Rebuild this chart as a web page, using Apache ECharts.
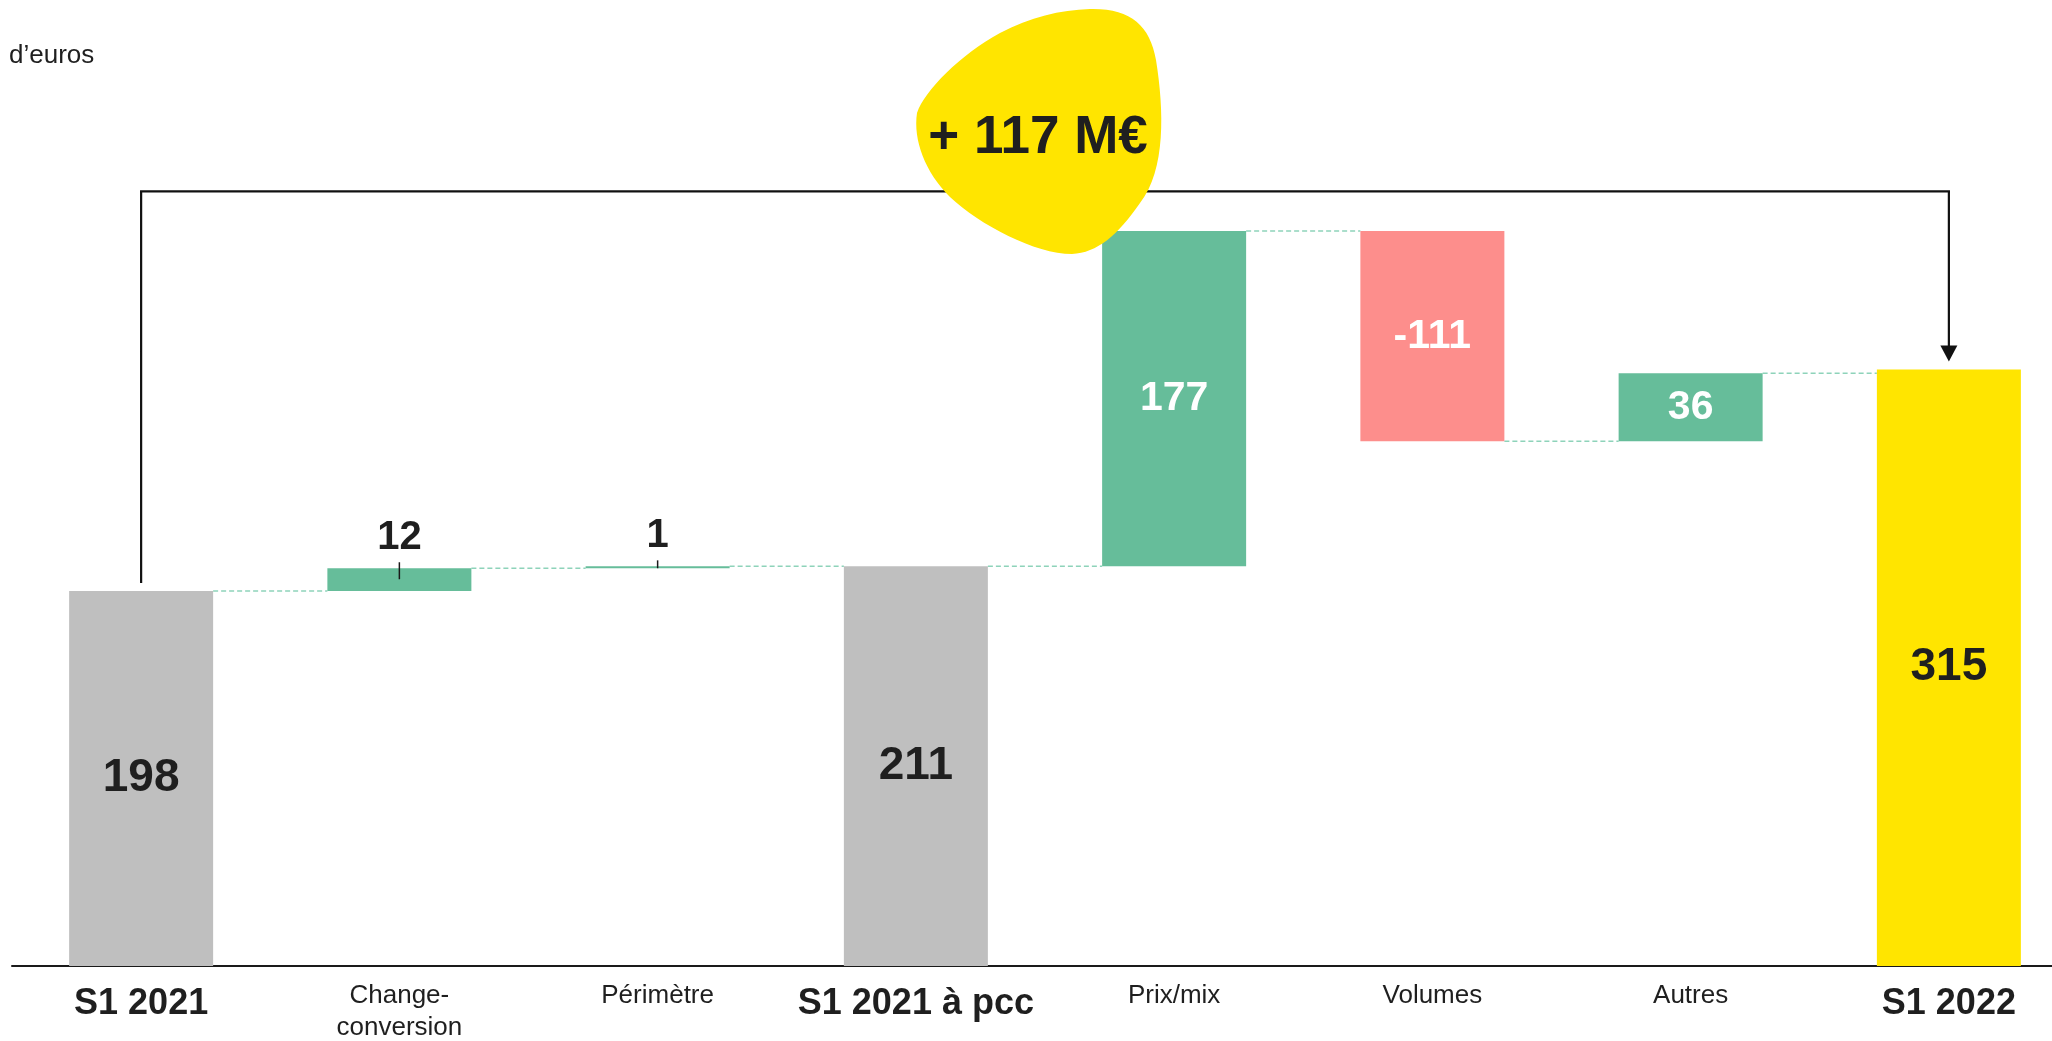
<!DOCTYPE html>
<html>
<head>
<meta charset="utf-8">
<script src="https://cdn.jsdelivr.net/npm/echarts@6/dist/echarts.min.js"></script>
<style>
html,body{margin:0;padding:0;background:#fff;overflow:hidden;width:2052px;height:1041px;}
#main{width:2078px;height:1041px;}
</style>
</head>
<body>
<div id="main"></div>
<script>
const categories = ['S1 2021', 'Change-\nconversion', 'Périmètre', 'S1 2021 à pcc', 'Prix/mix', 'Volumes', 'Autres', 'S1 2022'];
const values = [198, 12, 1, 211, 177, -111, 36, 315];
const kinds = ['total', 'delta', 'delta', 'total', 'delta', 'delta', 'delta', 'total'];
const totalChangeText = '+ 117 M€';
const unitText = 'd’euros';

const GREY = '#BFBFBF', GREEN = '#66BD9A', RED = '#FD8E8C', YELLOW = '#FFE500', DARK = '#1f1f1f';
const BAR_W = 144;
const BRACKET_LEVEL = 409;
const FONT = '"Liberation Sans", Arial, sans-serif';
const BLOB_PATH = 'M 917 113 C 925 90, 960 55, 1000 33 C 1030 17, 1060 10, 1090 9 C 1130 8, 1150 25, 1156 60 C 1164 110, 1166 170, 1140 203 C 1118 235, 1097 253, 1072 254 C 1035 254, 980 225, 950 197 C 925 172, 913 140, 917 113 Z';

// waterfall geometry derived from the values
const bases = [], heights = [], levels = [];
let run = 0;
values.forEach((v, i) => {
  if (kinds[i] === 'total') { bases.push(0); heights.push(v); run = v; }
  else if (v >= 0) { bases.push(run); heights.push(v); run += v; }
  else { bases.push(run + v); heights.push(-v); run += v; }
  levels.push(run);
});
const last = values.length - 1;

const barItems = values.map((v, i) => {
  let color;
  if (kinds[i] === 'total') color = (i === last) ? YELLOW : GREY;
  else color = v >= 0 ? GREEN : RED;
  const small = kinds[i] !== 'total' && Math.abs(v) < 20;
  let label;
  if (kinds[i] === 'total') {
    label = {show: true, position: 'inside', color: DARK, fontSize: 46, fontWeight: 'bold', fontFamily: FONT};
  } else if (small) {
    label = {show: true, position: 'top', distance: 9, color: DARK, fontSize: 40, lineHeight: 42, fontWeight: 'bold', fontFamily: FONT};
  } else {
    label = {show: true, position: 'inside', color: '#fff', fontSize: 41, fontWeight: 'bold', fontFamily: FONT};
  }
  return {value: heights[i], itemStyle: {color: color}, label: label};
});

const connectorData = [];
for (let i = 0; i < last; i++) connectorData.push([i, levels[i]]);

const leaderData = [];
values.forEach((v, i) => {
  if (kinds[i] !== 'total' && Math.abs(v) < 20) leaderData.push([i, bases[i] + heights[i], bases[i]]);
});

const chart = echarts.init(document.getElementById('main'), null, {renderer: 'canvas'});
chart.setOption({
  animation: false,
  backgroundColor: '#fff',
  grid: {left: 12, right: 0, top: 170.5, bottom: 75, containLabel: false},
  xAxis: {
    type: 'category',
    data: categories,
    axisTick: {show: false},
    axisLine: {lineStyle: {color: '#1a1a1a', width: 2}},
    axisLabel: {
      interval: 0,
      margin: 14,
      formatter: function (val, idx) {
        const tag = kinds[idx] === 'total' ? 'b' : 'n';
        return val.split('\n').map(s => '{' + tag + '|' + s + '}').join('\n');
      },
      rich: {
        b: {fontSize: 36, lineHeight: 48, fontWeight: 'bold', color: DARK, fontFamily: FONT},
        n: {fontSize: 26, lineHeight: 32, color: DARK, fontFamily: FONT}
      }
    }
  },
  yAxis: {type: 'value', min: 0, max: 420, show: false, splitLine: {show: false}},
  graphic: [
    {
      type: 'text', left: 9, top: 43, z: 100,
      style: {text: unitText, fill: DARK, font: '26px ' + FONT}
    }
  ],
  series: [
    {
      type: 'bar', stack: 'w', barWidth: BAR_W, silent: true,
      itemStyle: {color: 'rgba(0,0,0,0)'},
      data: bases
    },
    {
      type: 'bar', stack: 'w', barWidth: BAR_W,
      data: barItems,
      label: {formatter: p => String(values[p.dataIndex])}
    },
    {
      type: 'custom', silent: true, z: 1,
      data: connectorData,
      renderItem: function (params, api) {
        const i = api.value(0), lvl = api.value(1);
        const p1 = api.coord([i, lvl]);
        const p2 = api.coord([i + 1, lvl]);
        return {
          type: 'line',
          shape: {x1: p1[0] + BAR_W / 2, y1: p1[1], x2: p2[0] - BAR_W / 2, y2: p2[1]},
          style: {stroke: '#8ED3BA', lineWidth: 1.5, lineDash: [5, 3]}
        };
      }
    },
    {
      type: 'custom', silent: true, z: 5,
      data: leaderData,
      renderItem: function (params, api) {
        const i = api.value(0), top = api.value(1), base = api.value(2);
        const pt = api.coord([i, top]);
        const pb = api.coord([i, base]);
        return {
          type: 'line',
          shape: {x1: pt[0], y1: pt[1] - 6, x2: pt[0], y2: Math.min(pt[1] + 11, pb[1])},
          style: {stroke: '#1a1a1a', lineWidth: 1.5}
        };
      }
    },
    {
      type: 'custom', silent: true, z: 3,
      data: [[0, values[0], last, values[last]]],
      renderItem: function (params, api) {
        const a = api.coord([api.value(0), api.value(1)]);
        const b = api.coord([api.value(2), api.value(3)]);
        const yTop = api.coord([0, BRACKET_LEVEL])[1];
        const tipY = b[1] - 8;
        return {
          type: 'group',
          children: [
            {
              type: 'polyline',
              shape: {points: [[a[0], a[1] - 8], [a[0], yTop], [b[0], yTop], [b[0], tipY - 10]]},
              style: {stroke: '#111', lineWidth: 2.2, fill: null}
            },
            {
              type: 'polygon',
              shape: {points: [[b[0] - 8.5, tipY - 16], [b[0] + 8.5, tipY - 16], [b[0], tipY]]},
              style: {fill: '#111'}
            }
          ]
        };
      }
    },
    {
      type: 'custom', silent: true, z: 10,
      data: [[0]],
      renderItem: function (params, api) {
        return {
          type: 'group',
          children: [
            {type: 'path', shape: {pathData: BLOB_PATH}, style: {fill: YELLOW}},
            {type: 'text', x: 1038, y: 138,
             style: {text: totalChangeText, fill: DARK, font: 'bold 53px ' + FONT, align: 'center', verticalAlign: 'middle'}}
          ]
        };
      }
    }
  ]
});
</script>
</body>
</html>
